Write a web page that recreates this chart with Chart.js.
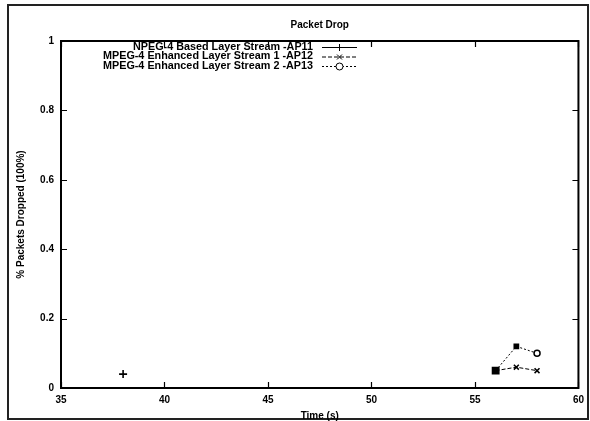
<!DOCTYPE html>
<html>
<head>
<meta charset="utf-8">
<script src="https://cdn.jsdelivr.net/npm/chart.js@4/dist/chart.umd.min.js"></script>
<style>
  html, body { margin: 0; padding: 0; background: #fff; }
  #wrap { width: 590px; height: 421px; position: relative; }
</style>
</head>
<body>
<div id="wrap"><canvas id="chart"></canvas></div>
<script>
// Packet Drop – gnuplot style line chart

const chartTitle = 'Packet Drop';
const xTitle = 'Time (s)';
const yTitle = '% Packets Dropped (100%)';

const seriesLabels = [
  'NPEG-4 Based Layer Stream -AP11',
  'MPEG-4 Enhanced Layer Stream 1 -AP12',
  'MPEG-4 Enhanced Layer Stream 2 -AP13'
];

const timeBase = [38];
const dropBase = [0.04];

const timeEnh = [56, 57, 58];
const dropEnh1 = [0.05, 0.06, 0.05];
const dropEnh2 = [0.05, 0.12, 0.10];

const xTicks = [35, 40, 45, 50, 55, 60];
const yTicks = [0, 0.2, 0.4, 0.6, 0.8, 1];

const FONT = '"Liberation Sans", Arial, sans-serif';

const pts = (xs, ys) => xs.map((x, i) => ({ x, y: ys[i] }));

// frame, title, inward ticks, axis titles and the key
const gnuplotDecor = {
  id: 'gnuplotDecor',
  afterDraw(chart) {
    const { ctx, chartArea: a, scales } = chart;
    ctx.save();

    // outer frame
    ctx.strokeStyle = '#222';
    ctx.lineWidth = 2;
    ctx.strokeRect(8, 5, 580, 414);

    // plot border
    ctx.strokeStyle = '#000';
    ctx.lineWidth = 2;
    ctx.strokeRect(a.left, a.top, a.right - a.left, a.bottom - a.top);

    // inward ticks on all four sides
    ctx.lineWidth = 1.2;
    ctx.beginPath();
    xTicks.forEach(v => {
      const px = Math.round(scales.x.getPixelForValue(v)) + 0.5;
      ctx.moveTo(px, a.bottom); ctx.lineTo(px, a.bottom - 6);
      ctx.moveTo(px, a.top); ctx.lineTo(px, a.top + 6);
    });
    yTicks.forEach(v => {
      const py = Math.round(scales.y.getPixelForValue(v)) + 0.5;
      ctx.moveTo(a.left, py); ctx.lineTo(a.left + 6, py);
      ctx.moveTo(a.right, py); ctx.lineTo(a.right - 6, py);
    });
    ctx.stroke();

    // titles
    ctx.fillStyle = '#000';
    ctx.font = 'bold 10px ' + FONT;
    ctx.textAlign = 'center';
    ctx.textBaseline = 'middle';
    const cx = (a.left + a.right) / 2;
    ctx.fillText(chartTitle, cx, 25);
    ctx.fillText(xTitle, cx, 416);

    ctx.save();
    ctx.translate(21, (a.top + a.bottom) / 2);
    ctx.rotate(-Math.PI / 2);
    ctx.fillText(yTitle, 0, 0);
    ctx.restore();

    // key
    chart.data.datasets.forEach((ds, i) => {
      const y = 47 + i * 9.5;
      ctx.font = 'bold 10.8px ' + FONT;
      ctx.textAlign = 'right';
      ctx.fillStyle = '#000';
      ctx.fillText(ds.label, 313, y);

      ctx.strokeStyle = '#000';
      ctx.lineWidth = 1;
      ctx.setLineDash(ds.borderDash || []);
      ctx.beginPath();
      ctx.moveTo(322, y + 0.5);
      ctx.lineTo(357, y + 0.5);
      ctx.stroke();
      ctx.setLineDash([]);

      const style = Array.isArray(ds.pointStyle) ? ds.pointStyle[ds.pointStyle.length - 1] : ds.pointStyle;
      ctx.fillStyle = '#fff';
      Chart.helpers.drawPoint(ctx, { pointStyle: style, radius: 3.5, rotation: 0, borderWidth: 1.3 }, 339.5, y + 0.5);
    });

    ctx.restore();
  }
};

new Chart(document.getElementById('chart'), {
  type: 'scatter',
  data: {
    datasets: [
      {
        label: seriesLabels[0],
        data: pts(timeBase, dropBase),
        showLine: true,
        borderColor: '#000',
        borderWidth: 1,
        pointStyle: 'cross',
        pointRadius: 4,
        pointBorderWidth: 1.6,
        pointBorderColor: '#000'
      },
      {
        label: seriesLabels[1],
        data: pts(timeEnh, dropEnh1),
        showLine: true,
        borderColor: '#000',
        borderWidth: 1,
        borderDash: [4, 2],
        pointStyle: 'crossRot',
        pointRadius: 3.5,
        pointBorderWidth: 1.5,
        pointBorderColor: '#000'
      },
      {
        label: seriesLabels[2],
        data: pts(timeEnh, dropEnh2),
        showLine: true,
        borderColor: '#000',
        borderWidth: 1,
        borderDash: [2, 2],
        pointStyle: ['rect', 'rect', 'circle'],
        pointRadius: [4.5, 3, 3],
        pointBorderWidth: 1.5,
        pointBorderColor: '#000',
        pointBackgroundColor: ['#000', '#000', '#fff']
      }
    ]
  },
  options: {
    responsive: true,
    maintainAspectRatio: false,
    devicePixelRatio: 1,
    animation: false,
    layout: { padding: { left: 0, top: 41, right: 8, bottom: 0 } },
    plugins: {
      legend: { display: false },
      title: { display: false },
      tooltip: { enabled: false }
    },
    scales: {
      x: {
        type: 'linear',
        min: 35,
        max: 60,
        afterBuildTicks: s => { s.ticks = xTicks.map(value => ({ value })); },
        afterFit: s => { s.height = 33; },
        grid: { display: false, drawTicks: false },
        border: { display: false },
        ticks: {
          padding: 6,
          color: '#000',
          maxRotation: 0,
          callback: v => String(v),
          font: { family: FONT, size: 10, weight: 'bold' }
        }
      },
      y: {
        type: 'linear',
        min: 0,
        max: 1,
        afterBuildTicks: s => { s.ticks = yTicks.map(value => ({ value })); },
        afterFit: s => { s.width = 61; },
        grid: { display: false, drawTicks: false },
        border: { display: false },
        ticks: {
          padding: 7,
          color: '#000',
          callback: v => String(v),
          font: { family: FONT, size: 10, weight: 'bold' }
        }
      }
    }
  },
  plugins: [gnuplotDecor]
});
</script>
</body>
</html>
